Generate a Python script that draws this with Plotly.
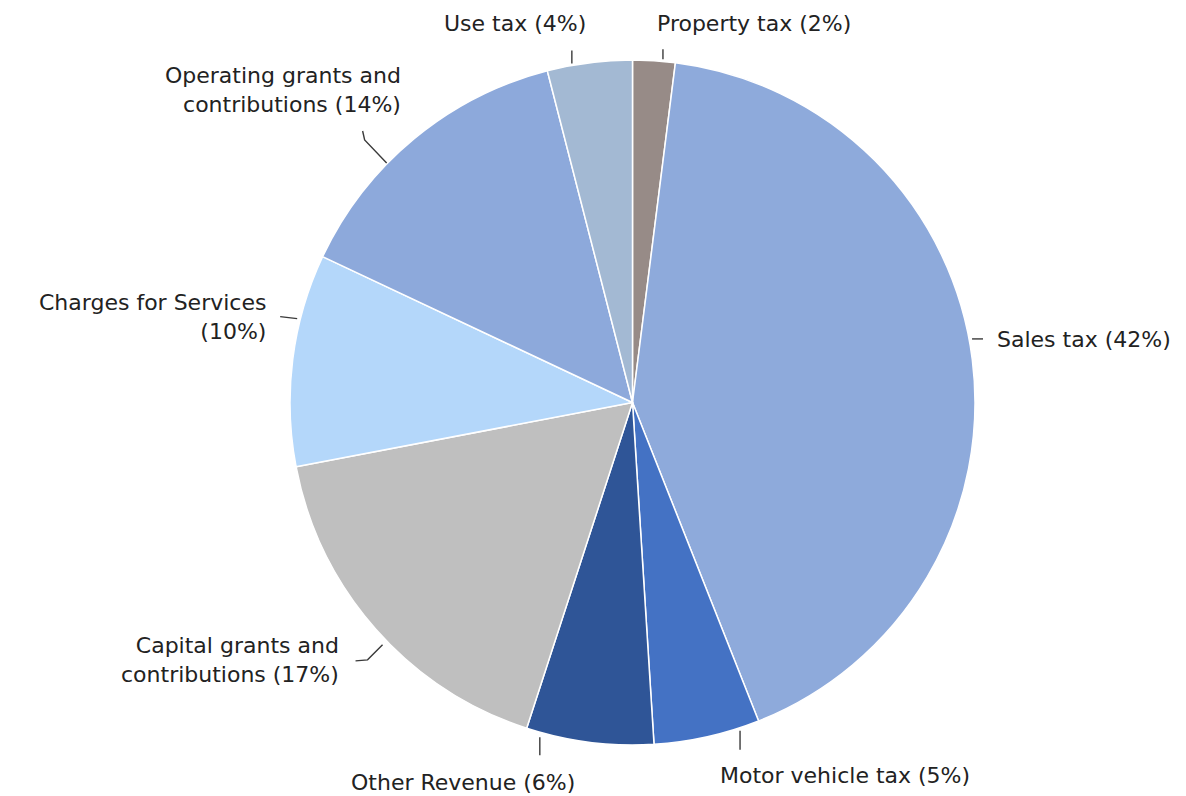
import math
import plotly.graph_objects as go

# Revenue shares (percent), listed clockwise from 12 o'clock
categories = [
    "Property tax",
    "Sales tax",
    "Motor vehicle tax",
    "Other Revenue",
    "Capital grants and contributions",
    "Charges for Services",
    "Operating grants and contributions",
    "Use tax",
]
shares = [2, 42, 5, 6, 17, 10, 14, 4]
colors = ["#978b87", "#8eaadb", "#4472c4", "#2f5597",
          "#bfbfbf", "#b4d7fa", "#8da9db", "#a3b9d3"]

# Words after which a label wraps onto a second line (0 = single line)
wrap_after_word = [0, 0, 0, 0, 3, 3, 3, 0]

# Canvas and pie geometry (pixels)
W, H = 1186, 796
CX, CY, R = 632.5, 402.5, 342.5

# Per-label placement: angular nudge of the leader from the slice middle (deg),
# leader polyline offsets from the rim point, text offset and anchors.
label_layout = [
    dict(shift=1.5, leader=[(0, -2), (0, -12)], text=(-8, -38), xa="left", ya="middle"),
    dict(shift=-3.5, leader=[(3, 0), (14, 0)], text=(26, 1), xa="left", ya="middle"),
    dict(shift=-5.7, leader=[(0, 3), (0, 22)], text=(-22, 48), xa="left", ya="middle"),
    dict(shift=8.5, leader=[(0, 5), (0, 23)], text=(37, 50), xa="right", ya="middle"),
    dict(shift=-2.7, leader=[(-4, 4), (-19, 19), (-31, 20)], text=(-46, 19), xa="right", ya="middle"),
    dict(shift=6.8, leader=[(-3, -1), (-20, -3)], text=(-32, -3), xa="right", ya="middle"),
    dict(shift=-5.8, leader=[(-2, 1), (-24, -22), (-26, -31)], text=(14, -72), xa="right", ya="middle"),
    dict(shift=-3.0, leader=[(0, -2), (0, -15)], text=(16, -42), xa="right", ya="middle"),
]

FONT = "DejaVu Sans"
FONT_SIZE = 22
TEXT_COLOR = "#222222"
LINE_COLOR = "#3a3a3a"


def px(x):
    return x / W


def py(y):
    return 1 - y / H


def label_text(name, pct, wrap):
    words = f"{name} ({pct}%)".split(" ")
    if wrap:
        return " ".join(words[:wrap]) + "<br>" + " ".join(words[wrap:])
    return " ".join(words)


fig = go.Figure(
    go.Pie(
        labels=categories,
        values=shares,
        sort=False,
        direction="clockwise",
        rotation=0,
        textinfo="none",
        hoverinfo="label+percent",
        marker=dict(colors=colors, line=dict(color="white", width=1.5)),
        domain=dict(x=[px(CX - R), px(CX + R)], y=[py(CY + R), py(CY - R)]),
        showlegend=False,
    )
)

total = sum(shares)
cum = 0.0
shapes, annotations = [], []
for name, v, wrap, lay in zip(categories, shares, wrap_after_word, label_layout):
    mid = (cum + v / 2) / total * 360.0
    cum += v
    theta = math.radians(mid + lay["shift"])
    rx = CX + R * math.sin(theta)
    ry = CY - R * math.cos(theta)

    pts = [(rx + dx, ry + dy) for dx, dy in lay["leader"]]
    path = "M " + " L ".join(f"{px(x):.5f},{py(y):.5f}" for x, y in pts)
    shapes.append(dict(type="path", path=path, xref="paper", yref="paper",
                       line=dict(color=LINE_COLOR, width=1.4)))

    tx, ty = rx + lay["text"][0], ry + lay["text"][1]
    annotations.append(dict(
        x=px(tx), y=py(ty), xref="paper", yref="paper",
        text=label_text(name, v, wrap), showarrow=False,
        xanchor=lay["xa"], yanchor=lay["ya"], align=lay["xa"],
        font=dict(family=FONT, size=FONT_SIZE, color=TEXT_COLOR),
    ))

fig.update_layout(
    width=W, height=H,
    margin=dict(l=0, r=0, t=0, b=0),
    paper_bgcolor="white", plot_bgcolor="white",
    shapes=shapes, annotations=annotations,
)

fig.write_html("out.html")
